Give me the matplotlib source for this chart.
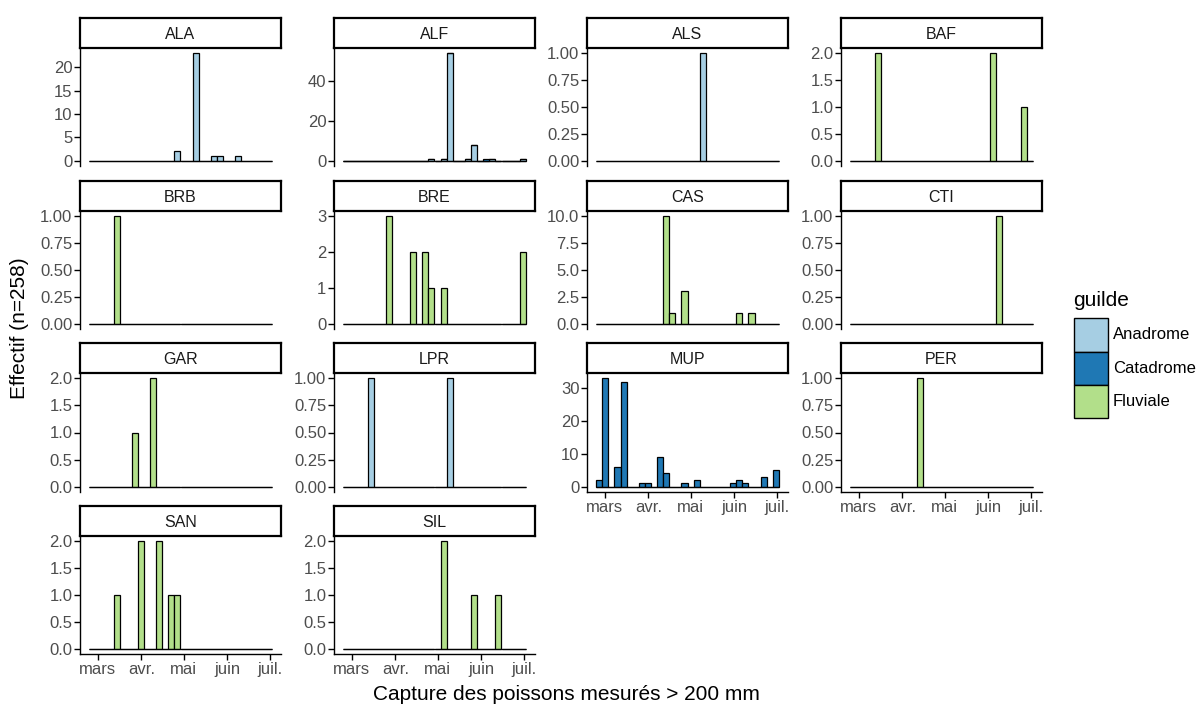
import numpy as np
import matplotlib
matplotlib.use('Agg')
import matplotlib.pyplot as plt
from matplotlib.patches import Rectangle

plt.rcParams['font.family'] = ['Liberation Sans', 'DejaVu Sans']

# ---------------- data ----------------
month_labels = ['mars', 'avr.', 'mai', 'juin', 'juil.']
month_days = [59, 90, 120, 151, 181]          # day of year (Jan 1 = 0)
BIN_START = 52.9                               # first bin edge (day of year)
BIN_WIDTH = 4.32                               # days per bin
N_BINS = 30

guildes = ['Anadrome', 'Catadrome', 'Fluviale']
guild_colors = ['#A6CEE3', '#1F78B4', '#B2DF8A']

species = ['ALA', 'ALF', 'ALS', 'BAF', 'BRB', 'BRE', 'CAS', 'CTI',
           'GAR', 'LPR', 'MUP', 'PER', 'SAN', 'SIL']

# (bin index, count) per species
ALA_bins = [14, 17, 20, 21, 24];  ALA_n = [2, 23, 1, 1, 1]
ALF_bins = [14, 16, 17, 20, 21, 24, 29];  ALF_n = [1, 1, 54, 1, 8, 1, 1]
ALF_cat_bins = [23];  ALF_cat_n = [1]
ALS_bins = [17];  ALS_n = [1]
BAF_bins = [4, 23, 28];  BAF_n = [2, 2, 1]
BRB_bins = [4];  BRB_n = [1]
BRE_bins = [7, 11, 13, 14, 16, 29];  BRE_n = [3, 2, 2, 1, 1, 2]
CAS_bins = [11, 12, 14, 23, 25];  CAS_n = [10, 1, 3, 1, 1]
CTI_bins = [24];  CTI_n = [1]
GAR_bins = [7, 10];  GAR_n = [1, 2]
LPR_bins = [4, 17];  LPR_n = [1, 1]
MUP_bins = [0, 1, 3, 4, 7, 8, 10, 11, 14, 16, 22, 23, 24, 27, 29]
MUP_n = [2, 33, 6, 32, 1, 1, 9, 4, 1, 2, 1, 2, 1, 3, 5]
PER_bins = [11];  PER_n = [1]
SAN_bins = [4, 8, 11, 13, 14];  SAN_n = [1, 2, 2, 1, 1]
SIL_bins = [16, 21, 25];  SIL_n = [2, 1, 1]

# y tick labels per panel
ALA_ticks = [0, 5, 10, 15, 20]
ALF_ticks = [0, 20, 40]
ALS_ticks = ['0.00', '0.25', '0.50', '0.75', '1.00']
BAF_ticks = ['0.0', '0.5', '1.0', '1.5', '2.0']
BRB_ticks = ['0.00', '0.25', '0.50', '0.75', '1.00']
BRE_ticks = [0, 1, 2, 3]
CAS_ticks = ['0.0', '2.5', '5.0', '7.5', '10.0']
CTI_ticks = ['0.00', '0.25', '0.50', '0.75', '1.00']
GAR_ticks = ['0.0', '0.5', '1.0', '1.5', '2.0']
LPR_ticks = ['0.00', '0.25', '0.50', '0.75', '1.00']
MUP_ticks = [0, 10, 20, 30]
PER_ticks = ['0.00', '0.25', '0.50', '0.75', '1.00']
SAN_ticks = ['0.0', '0.5', '1.0', '1.5', '2.0']
SIL_ticks = ['0.0', '0.5', '1.0', '1.5', '2.0']

panel_data = {
    'ALA': [(ALA_bins, ALA_n, 'Anadrome')],
    'ALF': [(ALF_bins, ALF_n, 'Anadrome'), (ALF_cat_bins, ALF_cat_n, 'Catadrome')],
    'ALS': [(ALS_bins, ALS_n, 'Anadrome')],
    'BAF': [(BAF_bins, BAF_n, 'Fluviale')],
    'BRB': [(BRB_bins, BRB_n, 'Fluviale')],
    'BRE': [(BRE_bins, BRE_n, 'Fluviale')],
    'CAS': [(CAS_bins, CAS_n, 'Fluviale')],
    'CTI': [(CTI_bins, CTI_n, 'Fluviale')],
    'GAR': [(GAR_bins, GAR_n, 'Fluviale')],
    'LPR': [(LPR_bins, LPR_n, 'Anadrome')],
    'MUP': [(MUP_bins, MUP_n, 'Catadrome')],
    'PER': [(PER_bins, PER_n, 'Fluviale')],
    'SAN': [(SAN_bins, SAN_n, 'Fluviale')],
    'SIL': [(SIL_bins, SIL_n, 'Fluviale')],
}
panel_ticks = {
    'ALA': ALA_ticks, 'ALF': ALF_ticks, 'ALS': ALS_ticks, 'BAF': BAF_ticks,
    'BRB': BRB_ticks, 'BRE': BRE_ticks, 'CAS': CAS_ticks, 'CTI': CTI_ticks,
    'GAR': GAR_ticks, 'LPR': LPR_ticks, 'MUP': MUP_ticks, 'PER': PER_ticks,
    'SAN': SAN_ticks, 'SIL': SIL_ticks,
}

# ---------------- layout (pixels) ----------------
W, H = 1204, 707
col_left = [80, 334, 587, 841]
panel_w = 201
panel_top = [48, 211, 373, 536]
panel_bot = [166, 329, 492, 654]
strip_h = 30
bottom_panels = {'MUP', 'PER', 'SAN', 'SIL'}
TICK_FS = 12
STRIP_FS = 11.5
TITLE_FS = 15
LEG_FS = 12

fig = plt.figure(figsize=(W / 100, H / 100), dpi=100)
fig.patch.set_facecolor('white')

def fx(px):
    return px / W

def fy(py):
    return 1 - py / H

edges = BIN_START + BIN_WIDTH * np.arange(N_BINS + 1)
span = edges[-1] - edges[0]
xlim = (edges[0] - 0.05 * span, edges[-1] + 0.05 * span)
color_of = dict(zip(guildes, guild_colors))

for i, sp in enumerate(species):
    r, c = divmod(i, 4)
    l = col_left[c]
    t, b = panel_top[r], panel_bot[r]
    ax = fig.add_axes([fx(l), fy(b), fx(panel_w), (b - t) / H])
    bottom = np.zeros(N_BINS)
    for bins, ns, g in panel_data[sp]:
        h = np.zeros(N_BINS)
        h[bins] = ns
        ax.bar(edges[:-1], h, width=BIN_WIDTH, bottom=bottom, align='edge',
               color=color_of[g], edgecolor='black', linewidth=0.9, zorder=2)
        bottom = bottom + h
    ax.hlines(0, edges[0], edges[-1], color='black', linewidth=0.9, zorder=3)
    ymax = bottom.max()
    ax.set_ylim(-0.05 * ymax, 1.05 * ymax)
    ax.set_xlim(*xlim)
    ticks = panel_ticks[sp]
    ax.set_yticks([float(v) for v in ticks])
    ax.set_yticklabels([str(v) for v in ticks])
    for s in ['top', 'right']:
        ax.spines[s].set_visible(False)
    ax.spines['left'].set_linewidth(1.0)
    ax.tick_params(axis='y', length=4, width=1.0, colors='black',
                   labelcolor='#4D4D4D', labelsize=TICK_FS, pad=1.5)
    if sp in bottom_panels:
        ax.spines['bottom'].set_linewidth(1.0)
        ax.set_xticks(month_days)
        ax.set_xticklabels(month_labels)
        ax.tick_params(axis='x', length=4, width=1.0, colors='black',
                       labelcolor='#4D4D4D', labelsize=TICK_FS, pad=1.5)
    else:
        ax.spines['bottom'].set_visible(False)
        ax.set_xticks([])
    ax.set_facecolor('white')
    # strip
    sax = fig.add_axes([fx(l), fy(t), fx(panel_w), strip_h / H])
    sax.set_xticks([]); sax.set_yticks([])
    for s in sax.spines.values():
        s.set_linewidth(1.6)
        s.set_color('black')
    sax.text(0.5, 0.45, sp, ha='center', va='center', fontsize=STRIP_FS,
             color='#1A1A1A', transform=sax.transAxes)

# axis titles
fig.text(fx(566), fy(694), 'Capture des poissons mesurés > 200 mm',
         ha='center', va='center', fontsize=TITLE_FS, color='black')
fig.text(fx(20), fy(328), 'Effectif (n=258)', ha='center', va='center',
         rotation=90, fontsize=TITLE_FS, color='black')

# legend
fig.text(fx(1073), fy(300), 'guilde', ha='left', va='center', fontsize=TITLE_FS,
         color='black')
key_top = 318
key_h = 33.5
for k, (g, col) in enumerate(zip(guildes, guild_colors)):
    y0 = key_top + k * key_h
    fig.add_artist(Rectangle((fx(1074), fy(y0 + key_h)), fx(34), key_h / H,
                             transform=fig.transFigure, facecolor=col,
                             edgecolor='black', linewidth=1.0))
    fig.text(fx(1113), fy(y0 + key_h / 2), g, ha='left', va='center',
             fontsize=LEG_FS, color='black')

fig.savefig('out.png', dpi=100, facecolor='white')
